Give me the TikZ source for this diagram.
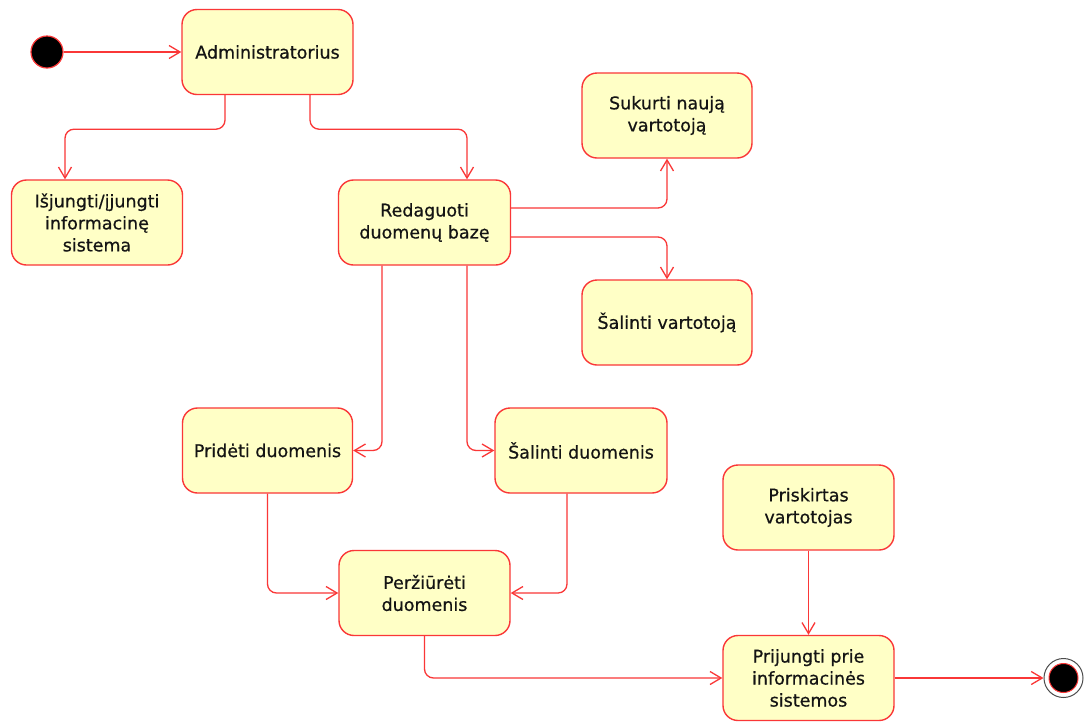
\documentclass[tikz,border=0pt]{standalone}
\usepackage{fontspec}
\setmainfont{DejaVu Sans}
\newfontfamily\statefont[FakeBold=0.6]{DejaVu Sans}
\usetikzlibrary{arrows.meta}
\definecolor{stateline}{RGB}{250,55,55}
\definecolor{statefill}{RGB}{255,255,198}
\definecolor{statetext}{RGB}{20,20,20}
\tikzset{
  state/.style={draw=stateline, fill=statefill, line width=1.4pt, rounded corners=15pt,
    minimum width=171pt, minimum height=85pt, align=center, text=statetext,
    font=\statefont\fontsize{17.5}{22}\selectfont, inner sep=0pt},
  flow/.style={draw=stateline, line width=1.3pt, rounded corners=9pt,
    -{Straight Barb[length=11pt,width=13pt,line width=1.3pt]}},
  initial/.style={circle, fill=black, draw=stateline, line width=1.2pt, minimum size=32pt, inner sep=0pt},
}
\begin{document}
\begin{tikzpicture}[x=1pt,y=-1pt]
\useasboundingbox (0,0) rectangle (1091,721);
\fill[white] (0,0) rectangle (1091,721);

% states
\node[initial] (start) at (47,52) {};
\node[state] (admin) at (267.5,52) {Administratorius};
\node[state] (isj) at (97,222.5) {Išjungti/įjungti\\informacinę\\sistema};
\node[state, minimum width=172pt] (red) at (424.5,222.5) {Redaguoti\\duomenų bazę};
\node[state, minimum width=170pt] (suk) at (667,115.5) {Sukurti naują\\vartotoją};
\node[state, minimum width=170pt] (salv) at (667,322.5) {Šalinti vartotoją};
\node[state, minimum width=170pt] (prid) at (267.5,450.5) {Pridėti duomenis};
\node[state, minimum width=172pt] (sald) at (581,450.5) {Šalinti duomenis};
\node[state] (perz) at (424.5,593) {Peržiūrėti\\duomenis};
\node[state] (prisk) at (808.5,507.5) {Priskirtas\\vartotojas};
\node[state] (prij) at (808.5,678) {Prijungti prie\\informacinės\\sistemos};

% final state
\node[circle, draw=black!70, line width=1pt, minimum size=39pt, inner sep=0pt, fill=white] (end) at (1063.5,678) {};
\node[circle, fill=black, draw=stateline, line width=1pt, minimum size=29pt, inner sep=0pt] at (end.center) {};

% transitions
\draw[flow] (start) -- (admin.west);
\draw[flow] ([xshift=-42.5pt]admin.south) -- ++(0,34) -| ([xshift=-32pt]isj.north);
\draw[flow] ([xshift=42.5pt]admin.south) -- ++(0,34) -| ([xshift=42.5pt]red.north);
\draw[flow] ([yshift=14.5pt]red.east) -| (suk.south);
\draw[flow] ([yshift=-14.5pt]red.east) -| (salv.north);
\draw[flow] ([xshift=-42.5pt]red.south) |- (prid.east);
\draw[flow] ([xshift=42.5pt]red.south) |- (sald.west);
\draw[flow] (prid.south) |- (perz.west);
\draw[flow] ([xshift=-14pt]sald.south) |- (perz.east);
\draw[flow] (perz.south) |- (prij.west);
\draw[flow] (prisk.south) -- (prij.north);
\draw[flow] (prij.east) -- (end.west);
\end{tikzpicture}
\end{document}
